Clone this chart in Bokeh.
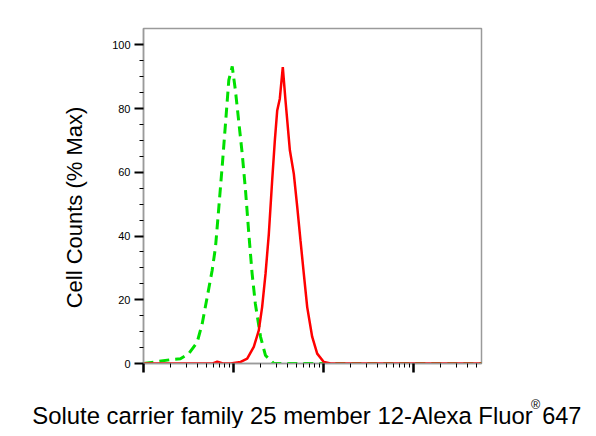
import math
from bokeh.plotting import figure
from bokeh.models import Range1d, FixedTicker, Label
from bokeh.layouts import column, row
from bokeh.embed import file_html
from bokeh.resources import INLINE

# ---- data (fluorescence intensity, % of max) ----
control_x = [1.0, 1.36, 2.0, 2.57, 3.16, 3.95, 4.49, 5.1, 5.79, 6.31, 6.87, 7.48, 8.15,
             8.87, 9.68, 10.5, 11.5, 12.5, 13.6, 14.8, 16.1, 17.5, 20.0, 22.7, 28.1,
             60.0, 300.0, 5700.0]
control_y = [0.0, 0.5, 1.2, 1.5, 3.0, 6.7, 12.5, 20.8, 29.2, 36.5, 49.0, 61.7, 75.3,
             88.9, 93.2, 85.7, 75.3, 65.8, 54.3, 40.7, 28.2, 18.7, 8.3, 2.5, 0.0,
             0.0, 0.0, 0.0]

sample_x = [1.0, 5.9, 6.6, 7.6, 9.27, 12.0, 14.2, 16.8, 19.1, 20.8, 22.7, 24.7, 26.9,
            28.8, 30.6, 32.7, 35.3, 37.8, 42.3, 46.8, 51.1, 55.5, 60.4, 65.9, 74.8,
            85.1, 100.7, 120.0, 5700.0]
sample_y = [0.0, 0.0, 0.6, 0.0, 0.0, 0.5, 1.5, 5.2, 10.4, 17.7, 28.2, 40.7, 57.5,
            70.0, 79.4, 83.1, 93.0, 82.6, 66.9, 59.5, 49.1, 38.6, 28.2, 17.7, 8.4,
            3.1, 0.5, 0.0, 0.0]

y_ticks = [0, 20, 40, 60, 80, 100]
y_minor = [v for v in range(5, 100, 5) if v % 20 != 0]
x_major = [1, 10, 100, 1000]
x_minor = [m * 10 ** d for d in range(4) for m in range(2, 10)]

y_label_text = "Cell Counts (% Max)"
x_label_main = "Solute carrier family 25 member 12-Alexa Fluor"
x_label_reg = "\u00ae"
x_label_end = "647"

FONT = "Liberation Sans"

# ---- layout (pixels) ----
TOTAL_W = 588
LEFT_W = 90          # strip holding the y title
TOP_H = 393          # height of the chart row
BOTTOM_H = 35        # strip holding the x title
MAIN_W = TOTAL_W - LEFT_W
BL, BT = 143 - LEFT_W, 28
FRAME_W, FRAME_H = 338, 335
BR = MAIN_W - BL - FRAME_W
BB = TOP_H - BT - FRAME_H

PX_PER_DEC = 90.0
x_end = 10 ** (FRAME_W / PX_PER_DEC)
PX_PER_UNIT = 3.187
y_end = FRAME_H / PX_PER_UNIT

p = figure(width=MAIN_W, height=TOP_H, x_axis_type="log",
           x_range=Range1d(1, x_end), y_range=Range1d(0, y_end),
           output_backend="svg", toolbar_location=None,
           min_border_left=BL, min_border_right=BR,
           min_border_top=BT, min_border_bottom=BB)
p.background_fill_color = "white"
p.border_fill_color = "white"
p.outline_line_color = "#9a9a9a"
p.outline_line_width = 1.5
p.xgrid.visible = False
p.ygrid.visible = False

p.line(control_x, control_y, line_color="#00e000", line_width=3, line_dash="10 6")
p.line(sample_x, sample_y, line_color="#ff0000", line_width=2.5)

ya = p.yaxis[0]
ya.ticker = FixedTicker(ticks=y_ticks, minor_ticks=y_minor)
ya.axis_line_color = "#9a9a9a"
ya.axis_line_width = 1.5
ya.major_tick_line_color = "black"
ya.major_tick_line_width = 2
ya.major_tick_out = 9
ya.major_tick_in = 0
ya.minor_tick_line_color = "black"
ya.minor_tick_line_width = 1
ya.minor_tick_out = 4
ya.minor_tick_in = 0
ya.major_label_text_font = FONT
ya.major_label_text_font_size = "11px"
ya.major_label_text_color = "black"
ya.major_label_standoff = 4

xa = p.xaxis[0]
xa.ticker = FixedTicker(ticks=x_major, minor_ticks=[v for v in x_minor if v < x_end])
xa.axis_line_color = "#9a9a9a"
xa.axis_line_width = 1.5
xa.major_tick_line_color = "black"
xa.major_tick_line_width = 2.5
xa.major_tick_out = 9
xa.major_tick_in = 0
xa.minor_tick_line_color = "black"
xa.minor_tick_line_width = 1
xa.minor_tick_out = 4
xa.minor_tick_in = 0
xa.major_label_overrides = {t: "" for t in x_major}
xa.major_label_text_font_size = "1px"


def text_strip(w, h, y_top):
    """A blank figure whose data coordinates equal page pixels."""
    f = figure(width=w, height=h, x_range=Range1d(0, w), y_range=Range1d(y_top + h, y_top),
               output_backend="svg", toolbar_location=None,
               x_axis_location=None, y_axis_location=None,
               min_border=0, min_border_left=0, min_border_right=0,
               min_border_top=0, min_border_bottom=0)
    f.outline_line_color = None
    f.background_fill_color = "white"
    f.border_fill_color = "white"
    f.xgrid.visible = False
    f.ygrid.visible = False
    return f


left = text_strip(LEFT_W, TOP_H, 0)
left.add_layout(Label(x=74, y=210, text=y_label_text, angle=math.pi / 2,
                      text_align="center", text_baseline="alphabetic",
                      text_font=FONT, text_font_size="22px", text_color="black"))

bottom = text_strip(TOTAL_W, BOTTOM_H, TOP_H)
bottom.add_layout(Label(x=31.7, y=414.7, text=x_label_main,
                        text_align="left", text_baseline="alphabetic",
                        text_font=FONT, text_font_size="23.9px", text_color="black"))
bottom.add_layout(Label(x=530.5, y=404.5, text=x_label_reg,
                        text_align="left", text_baseline="alphabetic",
                        text_font=FONT, text_font_size="12.5px", text_color="black"))
bottom.add_layout(Label(x=541.7, y=414.7, text=x_label_end,
                        text_align="left", text_baseline="alphabetic",
                        text_font=FONT, text_font_size="23.5px", text_color="black"))

layout = column(row(left, p, spacing=0), bottom, spacing=0)
open("out.html", "w").write(file_html(layout, INLINE))
